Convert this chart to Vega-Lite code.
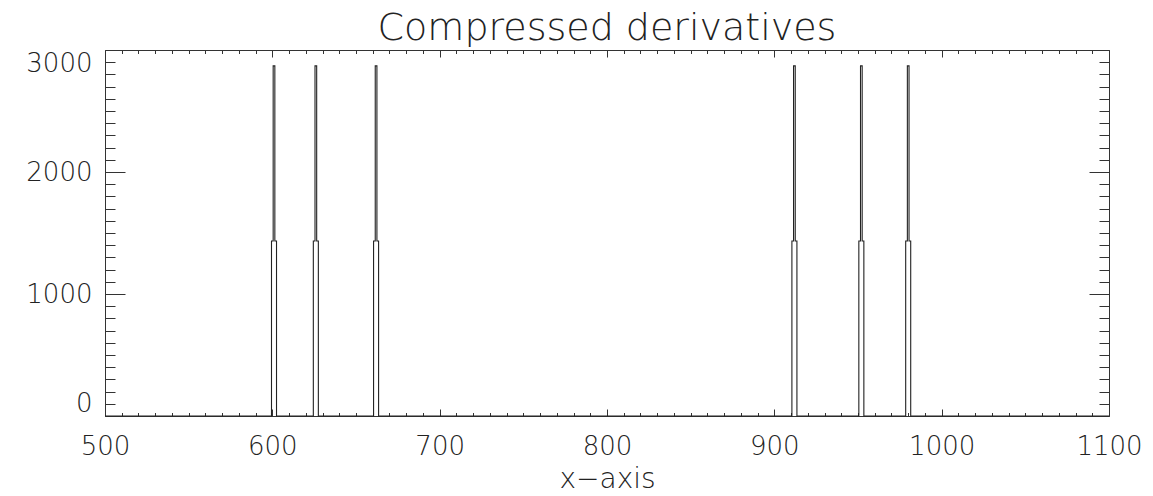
{
  "$schema": "https://vega.github.io/schema/vega-lite/v6.json",
  "width": 1004,
  "height": 366,
  "autosize": "none",
  "padding": {"left": 105, "top": 50, "right": 44, "bottom": 80},
  "background": "white",
  "config": {
    "view": {"stroke": null},
    "axis": {
      "domainColor": "#333",
      "tickColor": "#333",
      "tickWidth": 1,
      "labelFont": "DejaVu Sans",
      "labelFontSize": 26,
      "labelFontWeight": 200,
      "labelColor": "#222",
      "titleFont": "DejaVu Sans",
      "titleFontSize": 28,
      "titleFontWeight": 200,
      "titleColor": "#222",
      "grid": false
    }
  },
  "title": {
    "text": "Compressed derivatives",
    "font": "DejaVu Sans",
    "fontSize": 38,
    "fontWeight": 200,
    "color": "#222",
    "anchor": "middle",
    "offset": 2
  },
  "data": {
    "values": [
      {"x": 500, "y": 0},
      {"x": 599, "y": 0}, {"x": 600, "y": 1435}, {"x": 601, "y": 2870}, {"x": 602, "y": 1435}, {"x": 603, "y": 0},
      {"x": 624, "y": 0}, {"x": 625, "y": 1435}, {"x": 626, "y": 2870}, {"x": 627, "y": 1435}, {"x": 628, "y": 0},
      {"x": 660, "y": 0}, {"x": 661, "y": 1435}, {"x": 662, "y": 2870}, {"x": 663, "y": 1435}, {"x": 664, "y": 0},
      {"x": 910, "y": 0}, {"x": 911, "y": 1435}, {"x": 912, "y": 2870}, {"x": 913, "y": 1435}, {"x": 914, "y": 0},
      {"x": 950, "y": 0}, {"x": 951, "y": 1435}, {"x": 952, "y": 2870}, {"x": 953, "y": 1435}, {"x": 954, "y": 0},
      {"x": 978, "y": 0}, {"x": 979, "y": 1435}, {"x": 980, "y": 2870}, {"x": 981, "y": 1435}, {"x": 982, "y": 0},
      {"x": 1100, "y": 0}
    ]
  },
  "layer": [
    {
      "mark": {"type": "line", "interpolate": "step", "color": "#222", "strokeWidth": 1.1},
      "encoding": {
        "x": {
          "field": "x", "type": "quantitative",
          "scale": {"domain": [500, 1100], "nice": false, "zero": false},
          "axis": {
            "orient": "bottom",
            "values": [500,510,520,530,540,550,560,570,580,590,600,610,620,630,640,650,660,670,680,690,700,710,720,730,740,750,760,770,780,790,800,810,820,830,840,850,860,870,880,890,900,910,920,930,940,950,960,970,980,990,1000,1010,1020,1030,1040,1050,1060,1070,1080,1090,1100],
            "tickSize": {"condition": {"test": "datum.value % 100 === 0", "value": -7}, "value": -3.5},
            "format": "d",
            "labelExpr": "datum.value % 100 === 0 ? datum.label : ''",
            "labelFlush": false,
            "labelPadding": 24,
            "title": "x−axis",
            "titlePadding": 6
          }
        },
        "y": {
          "field": "y", "type": "quantitative",
          "scale": {"domain": [0, 3000], "nice": false, "zero": false},
          "axis": {
            "orient": "left",
            "values": [0,100,200,300,400,500,600,700,800,900,1000,1100,1200,1300,1400,1500,1600,1700,1800,1900,2000,2100,2200,2300,2400,2500,2600,2700,2800,2900,3000],
            "tickSize": {"condition": {"test": "datum.value % 1000 === 0", "value": -20}, "value": -10},
            "format": "d",
            "labelExpr": "datum.value % 1000 === 0 ? datum.label : ''",
            "labelFlush": true,
            "labelPadding": 33,
            "title": null
          }
        }
      }
    },
    {
      "mark": {"type": "line", "interpolate": "step", "strokeOpacity": 0},
      "encoding": {
        "x": {
          "field": "x", "type": "quantitative",
          "axis": {
            "orient": "top",
            "values": [500,510,520,530,540,550,560,570,580,590,600,610,620,630,640,650,660,670,680,690,700,710,720,730,740,750,760,770,780,790,800,810,820,830,840,850,860,870,880,890,900,910,920,930,940,950,960,970,980,990,1000,1010,1020,1030,1040,1050,1060,1070,1080,1090,1100],
            "tickSize": {"condition": {"test": "datum.value % 100 === 0", "value": -7}, "value": -3.5},
            "labels": false,
            "title": null
          }
        },
        "y": {
          "field": "y", "type": "quantitative",
          "axis": {
            "orient": "right",
            "values": [0,100,200,300,400,500,600,700,800,900,1000,1100,1200,1300,1400,1500,1600,1700,1800,1900,2000,2100,2200,2300,2400,2500,2600,2700,2800,2900,3000],
            "tickSize": {"condition": {"test": "datum.value % 1000 === 0", "value": -20}, "value": -10},
            "labels": false,
            "title": null
          }
        }
      }
    }
  ],
  "resolve": {"axis": {"x": "independent", "y": "independent"}}
}
